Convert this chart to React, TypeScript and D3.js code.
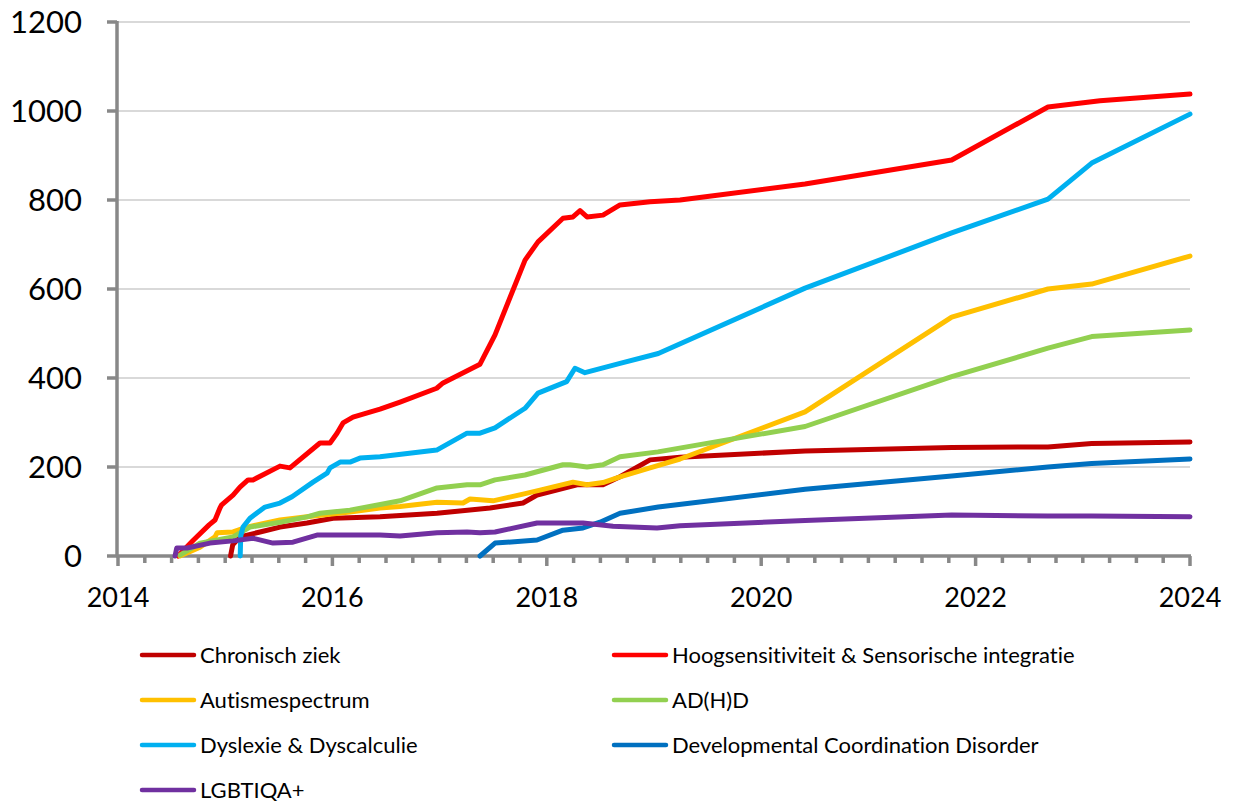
import React from "react";
import * as d3 from "d3";

type Pt = [number, number];

const chronischZiek: Pt[] = [
  [2015.05, 0], [2015.07, 25], [2015.138, 43], [2015.325, 54], [2015.511, 65], [2015.763, 74],
  [2016.006, 85], [2016.444, 88], [2016.976, 96], [2017.47, 108], [2017.778, 119], [2017.909, 137],
  [2018.282, 160], [2018.524, 160], [2018.618, 171], [2018.683, 178], [2018.963, 216], [2019.243, 222],
  [2020.409, 236], [2021.777, 244], [2022.675, 245], [2023.083, 253], [2024, 256],
];

const hoogsensitiviteit: Pt[] = [
  [2014.56, 0], [2014.7, 35], [2014.85, 70], [2014.905, 81], [2014.951, 108], [2014.967, 115],
  [2015.073, 137], [2015.138, 155], [2015.213, 171], [2015.259, 171], [2015.511, 202], [2015.604, 198],
  [2015.884, 254], [2015.978, 254], [2016.043, 276], [2016.099, 299], [2016.192, 312], [2016.444, 330],
  [2016.631, 346], [2016.973, 377], [2017.032, 389], [2017.377, 431], [2017.517, 497], [2017.797, 665],
  [2017.918, 706], [2018.151, 759], [2018.244, 762], [2018.31, 776], [2018.375, 762], [2018.524, 766],
  [2018.683, 789], [2018.963, 796], [2019.243, 800], [2020.409, 836], [2021.777, 890], [2022.675, 1009],
  [2023.16, 1023], [2024, 1038],
];

const autismespectrum: Pt[] = [
  [2014.578, 0], [2014.765, 20], [2014.905, 43], [2014.924, 52], [2015.073, 54], [2015.203, 65],
  [2015.511, 81], [2015.763, 88], [2016.164, 99], [2016.444, 108], [2016.631, 111], [2016.976, 121],
  [2017.218, 119], [2017.284, 128], [2017.498, 124], [2017.778, 139], [2017.937, 148], [2018.244, 166],
  [2018.375, 160], [2018.524, 165], [2018.683, 178], [2018.963, 198], [2019.243, 218], [2020.409, 324],
  [2021.777, 537], [2022.675, 600], [2023.083, 611], [2024, 674],
];

const adhd: Pt[] = [
  [2014.578, 2], [2014.765, 29], [2015.073, 43], [2015.231, 65], [2015.511, 76], [2015.763, 88],
  [2015.884, 96], [2016.164, 103], [2016.631, 124], [2016.976, 153], [2017.256, 160], [2017.377, 160],
  [2017.517, 171], [2017.797, 182], [2018.151, 205], [2018.216, 205], [2018.375, 200], [2018.524, 205],
  [2018.683, 223], [2019.037, 234], [2020.409, 291], [2021.777, 403], [2022.675, 467], [2023.083, 493],
  [2024, 508],
];

const dyslexie: Pt[] = [
  [2015.14, 0], [2015.145, 45], [2015.166, 65], [2015.231, 85], [2015.371, 110], [2015.511, 119],
  [2015.623, 133], [2015.819, 166], [2015.95, 186], [2015.978, 198], [2016.072, 211], [2016.164, 211],
  [2016.257, 220], [2016.444, 223], [2016.973, 238], [2017.256, 276], [2017.377, 276], [2017.517, 288],
  [2017.797, 332], [2017.918, 366], [2018.185, 392], [2018.263, 422], [2018.356, 412], [2018.683, 433],
  [2019.04, 455], [2020.409, 602], [2021.777, 726], [2022.675, 802], [2023.083, 883], [2024, 993],
];

const dcd: Pt[] = [
  [2017.377, 0], [2017.517, 29], [2017.909, 36], [2018.151, 58], [2018.338, 63], [2018.496, 76],
  [2018.683, 96], [2019.04, 110], [2020.409, 150], [2021.777, 180], [2022.675, 200], [2023.083, 208],
  [2024, 218],
];

const lgbtiqa: Pt[] = [
  [2014.532, 0], [2014.548, 18], [2014.644, 18], [2014.858, 29], [2015.073, 34], [2015.259, 40],
  [2015.446, 29], [2015.632, 31], [2015.856, 47], [2016.006, 47], [2016.257, 47], [2016.444, 47],
  [2016.631, 45], [2016.976, 52], [2017.256, 54], [2017.377, 52], [2017.517, 54], [2017.909, 74],
  [2018.151, 74], [2018.338, 74], [2018.618, 67], [2019.028, 63], [2019.243, 68], [2020.409, 80],
  [2021.777, 92], [2022.675, 90], [2023.083, 90], [2024, 88],
];

const seriesNames = [
  "Chronisch ziek",
  "Hoogsensitiviteit & Sensorische integratie",
  "Autismespectrum",
  "AD(H)D",
  "Dyslexie & Dyscalculie",
  "Developmental Coordination Disorder",
  "LGBTIQA+",
];
const seriesColors = ["#C00000", "#FF0000", "#FFC000", "#92D050", "#00B0F0", "#0070C0", "#7030A0"];
const seriesData = [chronischZiek, hoogsensitiviteit, autismespectrum, adhd, dyslexie, dcd, lgbtiqa];

const yTickValues = [0, 200, 400, 600, 800, 1000, 1200];
const xTickLabels = [2014, 2016, 2018, 2020, 2022, 2024];

const FONT = "Lato, 'Open Sans', sans-serif";

export default function App() {
  const x = d3.scaleLinear().domain([2014, 2024]).range([118, 1190]);
  const y = d3.scaleLinear().domain([0, 1200]).range([556, 22]);
  const line = d3
    .line<Pt>()
    .x((d) => x(d[0]))
    .y((d) => y(d[1]));

  const minorTicks = d3.range(0, 41).map((i) => 2014 + i * 0.25);
  const axisColor = "#888888";

  const legendCols = [140, 612];
  const legendRows = [655, 700, 745, 790];

  return (
    <svg
      width={1234}
      height={802}
      style={{ position: "absolute", left: 0, top: 0, background: "#fff", fontVariantLigatures: "none" }}
    >
      {/* gridlines */}
      {yTickValues.map((v) => (
        <line key={"g" + v} x1={118} x2={1190} y1={y(v)} y2={y(v)} stroke="#D9D9D9" strokeWidth={2} />
      ))}
      {/* y axis */}
      <line x1={117} x2={117} y1={y(1200) - 1} y2={y(0)} stroke={axisColor} strokeWidth={3.5} />
      {yTickValues.map((v) => (
        <line key={"yt" + v} x1={107} x2={117} y1={y(v)} y2={y(v)} stroke={axisColor} strokeWidth={3.5} />
      ))}
      {yTickValues.map((v) => (
        <text
          key={"yl" + v}
          x={82}
          y={y(v) + 11}
          textAnchor="end"
          fontFamily={FONT}
          fontSize={31}
          fill="#000"
        >
          {v}
        </text>
      ))}
      {/* x axis */}
      <line x1={116} x2={1191} y1={y(0)} y2={y(0)} stroke={axisColor} strokeWidth={3.5} />
      {minorTicks.map((t, i) => (
        <line
          key={"xt" + i}
          x1={x(t)}
          x2={x(t)}
          y1={y(0)}
          y2={y(0) + (i % 8 === 0 ? 10 : 7)}
          stroke={axisColor}
          strokeWidth={3.5}
        />
      ))}
      {xTickLabels.map((t) => (
        <text
          key={"xl" + t}
          x={x(t)}
          y={607}
          textAnchor="middle"
          fontFamily={FONT}
          fontSize={27}
          fill="#000"
        >
          {t}
        </text>
      ))}
      {/* series */}
      {seriesData.map((d, i) => (
        <path
          key={"s" + i}
          d={line(d) || ""}
          fill="none"
          stroke={seriesColors[i]}
          strokeWidth={5}
          strokeLinejoin="round"
          strokeLinecap="round"
        />
      ))}
      {/* legend */}
      {seriesNames.map((name, i) => {
        const col = i % 2;
        const row = Math.floor(i / 2);
        const lx = legendCols[col];
        const ly = legendRows[row];
        return (
          <g key={"lg" + i}>
            <line
              x1={lx + 2}
              x2={lx + 54}
              y1={ly}
              y2={ly}
              stroke={seriesColors[i]}
              strokeWidth={4.5}
              strokeLinecap="round"
            />
            <text
              x={lx + 60}
              y={ly + 8}
              fontFamily={FONT}
              fontSize={22}
              fill="#000"
            >
              {name}
            </text>
          </g>
        );
      })}
    </svg>
  );
}
